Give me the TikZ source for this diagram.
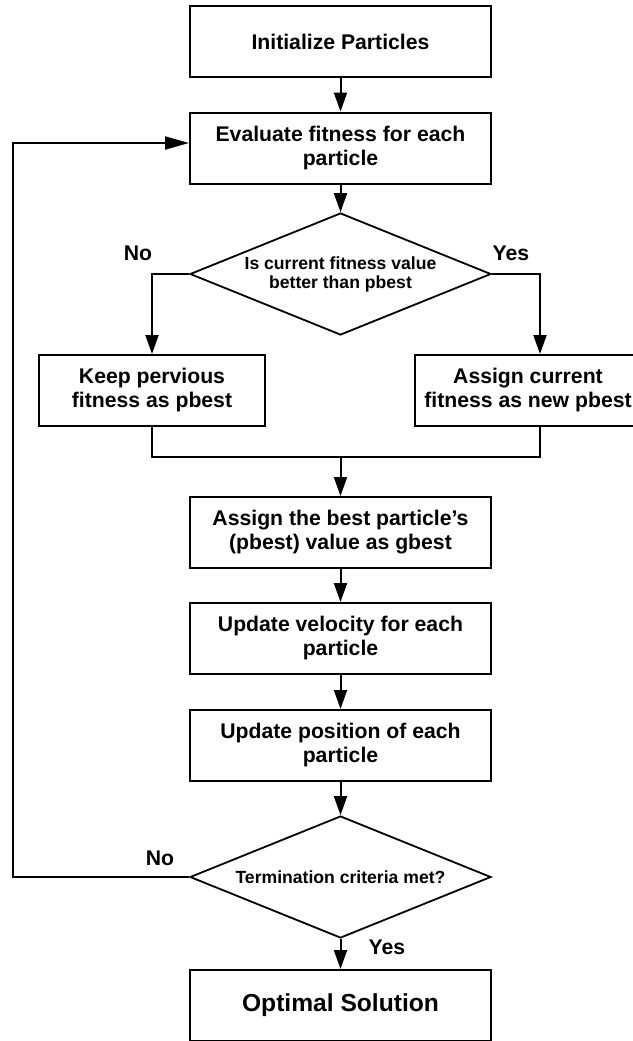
\documentclass[tikz,border=0pt]{standalone}
\usepackage{fontspec}
\setmainfont{Liberation Sans}
\usetikzlibrary{shapes.geometric,arrows.meta,calc}
\begin{document}
\begin{tikzpicture}[x=0.5pt,y=-0.5pt,
  box/.style={draw, line width=1pt, minimum width=150.5pt, minimum height=35.5pt, inner sep=0pt, align=center, font=\bfseries\fontsize{10.6}{12}\selectfont},
  dia/.style={draw, line width=0.9pt, diamond, shape aspect=2.47, minimum width=150.5pt, minimum height=61pt, inner sep=0pt, align=center, font=\bfseries\fontsize{8.8}{9.5}\selectfont},
  lbl/.style={font=\bfseries\fontsize{10.6}{12}\selectfont, inner sep=0pt},
  conn/.style={line width=1pt},
  arr/.style={conn, -{Triangle[length=9.5pt,width=6.5pt]}},
  longarr/.style={conn, -{Triangle[length=12pt,width=6.5pt]}}]
\useasboundingbox (0,0) rectangle (633,1041);
\clip (0,0) rectangle (633,1041);
\node[box] (init) at (340.5,41.5) {Initialize Particles};
\node[box] (eval) at (340.5,148) {Evaluate fitness for each\\particle};
\node[dia] (d1) at (340.5,274) {Is current fitness value\\better than pbest};
\node[box, minimum width=113pt] (keep) at (152,390.5) {Keep pervious\\fitness as pbest};
\node[box, minimum width=113pt] (assign) at (528,390.5) {Assign current\\fitness as new pbest};
\node[box] (best) at (340.5,532.5) {Assign the best particle’s\\(pbest) value as gbest};
\node[box] (vel) at (340.5,638.5) {Update velocity for each\\particle};
\node[box] (pos) at (340.5,745.5) {Update position of each\\particle};
\node[dia] (d2) at (340.5,877) {Termination criteria met?};
\node[box, font=\bfseries\fontsize{12.3}{14}\selectfont] (opt) at (340.5,1005.5) {Optimal Solution};
\node[lbl] (no1) at (138,253) {No};
\node[lbl] (yes1) at (511,253) {Yes};
\node[lbl] (no2) at (160,858) {No};
\node[lbl] (yes2) at (387,947) {Yes};
\coordinate (merge) at (340.5,457);
\coordinate (loopc) at (13,877);
\draw[arr] (init) -- (eval);
\draw[arr] (eval) -- (d1);
\draw[arr] (d1.west) -| (keep.north);
\draw[arr] (d1.east) -| ([xshift=6pt]assign.north);
\draw[conn] (keep.south) |- (merge) -| ([xshift=6pt]assign.south);
\draw[arr] (merge) -- (best);
\draw[arr] (best) -- (vel);
\draw[arr] (vel) -- (pos);
\draw[arr] (pos) -- (d2);
\draw[arr] (d2) -- (opt);
\draw[longarr] (d2.west) -- (loopc) |- ([yshift=2.5pt]eval.west);
\end{tikzpicture}
\end{document}
